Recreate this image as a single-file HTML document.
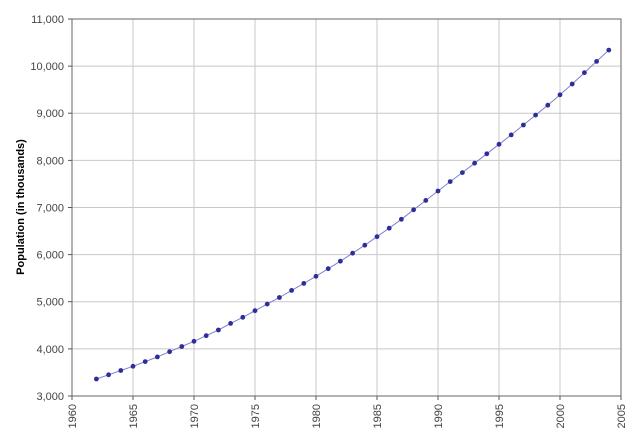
<!DOCTYPE html><html><head><style>body{margin:0;background:#fff}svg{display:block}text{font-family:"Liberation Sans",sans-serif}</style></head><body>
<svg width="640" height="438" xmlns="http://www.w3.org/2000/svg">
<defs><marker id="m" markerWidth="6" markerHeight="6" refX="3" refY="3" markerUnits="userSpaceOnUse"><circle cx="3" cy="3" r="2.4" fill="#2e2e99"/></marker></defs>
<g stroke="#c8c8c8">
<line x1="72" x2="621" y1="348.9" y2="348.9"/><line x1="72" x2="621" y1="301.7" y2="301.7"/><line x1="72" x2="621" y1="254.6" y2="254.6"/><line x1="72" x2="621" y1="207.5" y2="207.5"/><line x1="72" x2="621" y1="160.4" y2="160.4"/><line x1="72" x2="621" y1="113.2" y2="113.2"/><line x1="72" x2="621" y1="66.1" y2="66.1"/>
<line y1="19" y2="396" x1="133" x2="133"/><line y1="19" y2="396" x1="194" x2="194"/><line y1="19" y2="396" x1="255" x2="255"/><line y1="19" y2="396" x1="316" x2="316"/><line y1="19" y2="396" x1="377" x2="377"/><line y1="19" y2="396" x1="438" x2="438"/><line y1="19" y2="396" x1="499" x2="499"/><line y1="19" y2="396" x1="560" x2="560"/>
</g>
<g stroke="#555">
<line x1="68" x2="72" y1="396" y2="396"/><line x1="68" x2="72" y1="348.9" y2="348.9"/><line x1="68" x2="72" y1="301.7" y2="301.7"/><line x1="68" x2="72" y1="254.6" y2="254.6"/><line x1="68" x2="72" y1="207.5" y2="207.5"/><line x1="68" x2="72" y1="160.4" y2="160.4"/><line x1="68" x2="72" y1="113.2" y2="113.2"/><line x1="68" x2="72" y1="66.1" y2="66.1"/><line x1="68" x2="72" y1="19" y2="19"/>
<line y1="396" y2="400" x1="72" x2="72"/><line y1="396" y2="400" x1="133" x2="133"/><line y1="396" y2="400" x1="194" x2="194"/><line y1="396" y2="400" x1="255" x2="255"/><line y1="396" y2="400" x1="316" x2="316"/><line y1="396" y2="400" x1="377" x2="377"/><line y1="396" y2="400" x1="438" x2="438"/><line y1="396" y2="400" x1="499" x2="499"/><line y1="396" y2="400" x1="560" x2="560"/><line y1="396" y2="400" x1="621" x2="621"/>
</g>
<rect x="72" y="19" width="549" height="377" fill="none" stroke="#666"/>
<g font-size="11" fill="#444" text-anchor="end">
<text x="64" y="400">3,000</text><text x="64" y="352.9">4,000</text><text x="64" y="305.7">5,000</text><text x="64" y="258.6">6,000</text><text x="64" y="211.5">7,000</text><text x="64" y="164.4">8,000</text><text x="64" y="117.2">9,000</text><text x="64" y="70.1">10,000</text><text x="64" y="23">11,000</text>
<text transform="translate(76,404) rotate(-90)">1960</text><text transform="translate(137,404) rotate(-90)">1965</text><text transform="translate(198,404) rotate(-90)">1970</text><text transform="translate(259,404) rotate(-90)">1975</text><text transform="translate(320,404) rotate(-90)">1980</text><text transform="translate(381,404) rotate(-90)">1985</text><text transform="translate(442,404) rotate(-90)">1990</text><text transform="translate(503,404) rotate(-90)">1995</text><text transform="translate(564,404) rotate(-90)">2000</text><text transform="translate(625,404) rotate(-90)">2005</text>
</g>
<text transform="translate(24,207) rotate(-90)" font-size="11" font-weight="bold" text-anchor="middle">Population (in thousands)</text>
<polyline fill="none" stroke="#8080d0" stroke-width="1" marker-start="url(#m)" marker-mid="url(#m)" marker-end="url(#m)" points="96.4,379 108.6,374.8 120.8,370.5 133,366.3 145.2,361.6 157.4,356.9 169.6,351.7 181.8,346.5 194,341.3 206.2,335.7 218.4,330 230.6,323.4 242.8,317.3 255,310.7 267.2,304.1 279.4,297.5 291.6,290.4 303.8,283.4 316,276.3 328.2,268.7 340.4,261.2 352.6,253.2 364.8,245.2 377,236.7 389.2,228.2 401.4,219.3 413.6,209.8 425.8,200.4 438,191 450.2,181.6 462.4,172.6 474.6,163.2 486.8,153.8 499,144.3 511.2,134.9 523.4,125 535.6,115.1 547.8,105.2 560,94.8 572.2,84 584.4,72.7 596.6,61.4 608.8,50.1"/>
</svg></body></html>
